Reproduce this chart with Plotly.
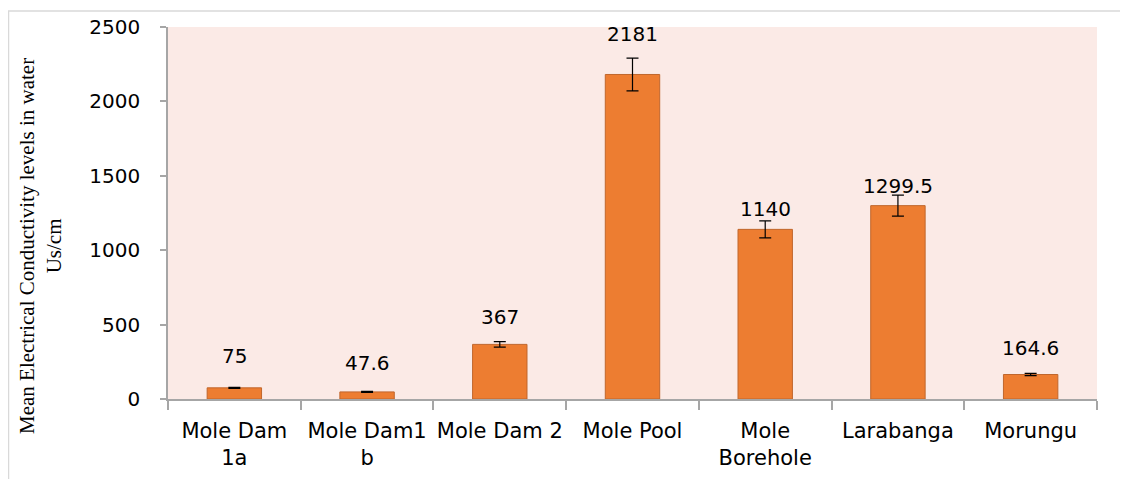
import plotly.graph_objects as go

categories = ["Mole Dam<br>1a", "Mole Dam1<br>b", "Mole Dam 2", "Mole Pool",
              "Mole<br>Borehole", "Larabanga", "Morungu"]
values = [75, 47.6, 367, 2181, 1140, 1299.5, 164.6]
errors = [4, 3, 19, 110, 57, 70, 8]
value_labels = ["75", "47.6", "367", "2181", "1140", "1299.5", "164.6"]
label_shift = [32, 29, 27, 40, 20, 20, 27]
y_ticks = [0, 500, 1000, 1500, 2000, 2500]

# page body has an 8px margin, so the figure is 8px smaller than the window
W, H = 1120, 471
L, R, T, B = 160, 31, 19, 80
pw, ph = W - L - R, H - T - B

fig = go.Figure()
fig.add_trace(go.Bar(
    x=categories, y=values, width=0.41,
    marker=dict(color="#ED7D31", line=dict(color="#C0662C", width=1)),
    error_y=dict(type="data", array=errors, visible=True, color="black",
                 thickness=1.2, width=6),
    hoverinfo="skip",
))

for c, v, t, s in zip(categories, values, value_labels, label_shift):
    fig.add_annotation(x=c, y=v, text=t, showarrow=False, yshift=s,
                       font=dict(family="DejaVu Sans", size=20, color="#000000"))

fig.add_annotation(
    xref="paper", yref="paper",
    x=(33 - L) / pw, y=(H - B - 238) / ph,
    xanchor="center", yanchor="middle",
    text="Mean Electrical Conductivity levels in water<br>Us/cm",
    textangle=-90, showarrow=False, align="center",
    font=dict(family="Liberation Serif", size=21, color="#000000"),
)

grey = "#D9D9D9"
fig.add_shape(type="line", xref="paper", yref="paper",
              x0=(0 - L) / pw, x1=(W - L) / pw, y0=(H - B - 3) / ph, y1=(H - B - 3) / ph,
              line=dict(color=grey, width=1.5))
fig.add_shape(type="line", xref="paper", yref="paper",
              x0=(0.5 - L) / pw, x1=(0.5 - L) / pw, y0=(H - B - 3) / ph, y1=(H - B - H) / ph,
              line=dict(color=grey, width=1.5))

fig.update_layout(
    width=W, height=H,
    margin=dict(l=L, r=R, t=T, b=B, pad=0, autoexpand=False),
    paper_bgcolor="white", plot_bgcolor="#FBEAE6",
    showlegend=False, bargap=0.59,
    font=dict(family="DejaVu Sans", size=20, color="#000000"),
    xaxis=dict(showline=True, linecolor="#A6A6A6", linewidth=1.5,
               ticks="outside", ticklen=9, tickcolor="#A6A6A6", tickwidth=1.5,
               tickson="boundaries", showgrid=False, ticklabelstandoff=12,
               tickangle=0, automargin=False,
               tickfont=dict(family="DejaVu Sans", size=21)),
    yaxis=dict(range=[0, 2500], tickvals=y_ticks, showline=True,
               linecolor="#A6A6A6", linewidth=1.5, ticks="outside", ticklen=6,
               tickcolor="#A6A6A6", tickwidth=1.5, showgrid=False, zeroline=False,
               ticklabelstandoff=16, automargin=False,
               tickfont=dict(family="DejaVu Sans", size=20)),
)

fig.write_html("out.html")
